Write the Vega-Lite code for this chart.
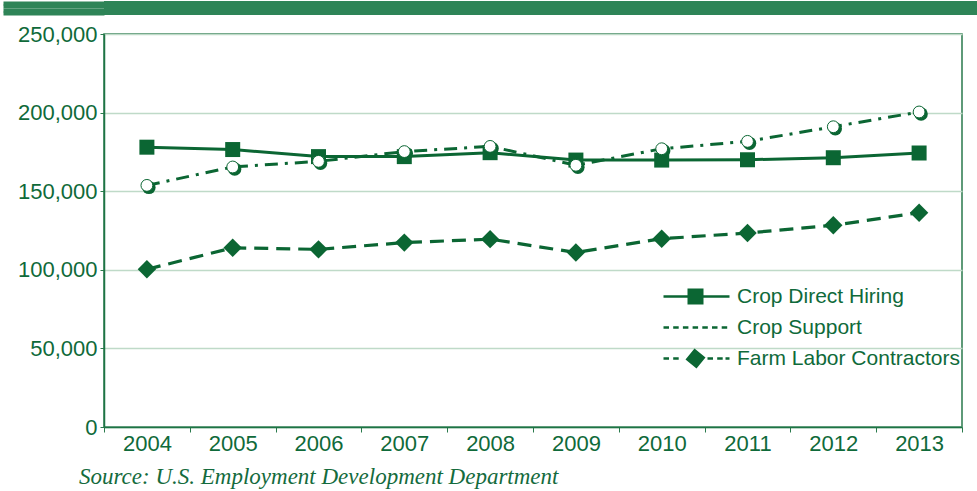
{
  "$schema": "https://vega.github.io/schema/vega-lite/v6.json",
  "padding": 0,
  "background": "white",
  "spacing": 6,
  "resolve": {"scale": {"shape": "independent"}, "legend": {"shape": "independent"}},
  "datasets": {
    "emp": [
      {"year": "2004", "series": "Crop Direct Hiring", "value": 178000},
      {"year": "2005", "series": "Crop Direct Hiring", "value": 176500},
      {"year": "2006", "series": "Crop Direct Hiring", "value": 172000},
      {"year": "2007", "series": "Crop Direct Hiring", "value": 172000},
      {"year": "2008", "series": "Crop Direct Hiring", "value": 174500},
      {"year": "2009", "series": "Crop Direct Hiring", "value": 169800},
      {"year": "2010", "series": "Crop Direct Hiring", "value": 169800},
      {"year": "2011", "series": "Crop Direct Hiring", "value": 170000},
      {"year": "2012", "series": "Crop Direct Hiring", "value": 171300},
      {"year": "2013", "series": "Crop Direct Hiring", "value": 174300},
      {"year": "2004", "series": "Crop Support", "value": 153700},
      {"year": "2005", "series": "Crop Support", "value": 165400},
      {"year": "2006", "series": "Crop Support", "value": 169000},
      {"year": "2007", "series": "Crop Support", "value": 175200},
      {"year": "2008", "series": "Crop Support", "value": 178500},
      {"year": "2009", "series": "Crop Support", "value": 166500},
      {"year": "2010", "series": "Crop Support", "value": 177000},
      {"year": "2011", "series": "Crop Support", "value": 181700},
      {"year": "2012", "series": "Crop Support", "value": 191000},
      {"year": "2013", "series": "Crop Support", "value": 200400},
      {"year": "2004", "series": "Farm Labor Contractors", "value": 100300},
      {"year": "2005", "series": "Farm Labor Contractors", "value": 114000},
      {"year": "2006", "series": "Farm Labor Contractors", "value": 113000},
      {"year": "2007", "series": "Farm Labor Contractors", "value": 117300},
      {"year": "2008", "series": "Farm Labor Contractors", "value": 119500},
      {"year": "2009", "series": "Farm Labor Contractors", "value": 111000},
      {"year": "2010", "series": "Farm Labor Contractors", "value": 119800},
      {"year": "2011", "series": "Farm Labor Contractors", "value": 123400},
      {"year": "2012", "series": "Farm Labor Contractors", "value": 128300},
      {"year": "2013", "series": "Farm Labor Contractors", "value": 136300}
    ],
    "band": [{"t": "", "v": 0.5}]
  },
  "vconcat": [
    {
      "width": 874,
      "height": 14,
      "view": {"fill": "#2e8457", "stroke": null},
      "data": {"name": "band"},
      "mark": {"type": "text", "color": "white"},
      "encoding": {
        "text": {"field": "t"},
        "y": {
          "field": "v",
          "type": "quantitative",
          "scale": {"domain": [0, 1]},
          "axis": {
            "title": null,
            "values": [0.125, 0.375, 0.625, 0.875],
            "labels": false,
            "domain": false,
            "grid": false,
            "tickSize": 101,
            "tickWidth": 4.2,
            "tickCap": "butt",
            "tickColor": "#2e8457",
            "minExtent": 103,
            "maxExtent": 103
          }
        }
      }
    },
    {
      "width": 858,
      "height": 393,
      "view": {"stroke": "#2a7a4c", "strokeWidth": 1.5},
      "data": {"name": "emp"},
      "title": {
        "text": "Source: U.S. Employment Development Department",
        "orient": "bottom",
        "anchor": "start",
        "frame": "group",
        "dx": -25,
        "offset": 12,
        "font": "Liberation Serif",
        "fontStyle": "italic",
        "fontWeight": "normal",
        "fontSize": 23,
        "color": "#146b3d"
      },
      "encoding": {
        "x": {
          "field": "year",
          "type": "ordinal",
          "bandPosition": 0.5,
          "scale": {"type": "band", "paddingInner": 0, "paddingOuter": 0},
          "axis": {
            "title": null,
            "labelAngle": 0,
            "tickBand": "extent",
            "tickSize": 5,
            "tickColor": "#2a7a4c",
            "domainColor": "#1d7445",
            "domainWidth": 1.5,
            "labelFont": "Liberation Sans",
            "labelFontSize": 22,
            "labelColor": "#0f6a3a",
            "labelPadding": 1,
            "labelDx": -3,
            "grid": false
          }
        },
        "y": {
          "field": "value",
          "type": "quantitative",
          "scale": {"domain": [0, 250000], "nice": false},
          "axis": {
            "title": null,
            "values": [0, 50000, 100000, 150000, 200000, 250000],
            "format": ",d",
            "grid": true,
            "gridColor": "#bfdac8",
            "gridWidth": 1.5,
            "tickSize": 4,
            "tickColor": "#2a7a4c",
            "domainColor": "#1d7445",
            "domainWidth": 1.5,
            "labelFont": "Liberation Sans",
            "labelFontSize": 22,
            "labelColor": "#0f6a3a",
            "labelPadding": 3,
            "minExtent": 103
          }
        }
      },
      "layer": [
        {
          "transform": [{"filter": "datum.series === 'Crop Direct Hiring'"}],
          "mark": {"type": "line", "color": "#0b6633", "strokeWidth": 3}
        },
        {
          "transform": [{"filter": "datum.series === 'Crop Support'"}],
          "mark": {"type": "line", "color": "#0b6633", "strokeWidth": 3, "strokeDash": [13, 7, 3, 7]}
        },
        {
          "transform": [{"filter": "datum.series === 'Farm Labor Contractors'"}],
          "mark": {"type": "line", "color": "#0b6633", "strokeWidth": 3.2, "strokeDash": [14, 8]}
        },
        {
          "transform": [{"filter": "datum.series === 'Crop Direct Hiring'"}],
          "mark": {"type": "point", "shape": "square", "filled": true, "size": 225, "color": "#0b6633", "opacity": 1}
        },
        {
          "transform": [{"filter": "datum.series === 'Farm Labor Contractors'"}],
          "mark": {"type": "point", "shape": "diamond", "filled": true, "size": 340, "color": "#0b6633", "opacity": 1}
        },
        {
          "transform": [{"filter": "datum.series === 'Crop Support'"}],
          "mark": {"type": "point", "shape": "circle", "filled": true, "size": 180, "color": "#0b6633", "opacity": 1, "xOffset": 2, "yOffset": 2}
        },
        {
          "transform": [{"filter": "datum.series === 'Crop Support'"}],
          "mark": {"type": "point", "shape": "circle", "filled": true, "size": 140, "fill": "white", "stroke": "#0b6633", "strokeWidth": 1, "opacity": 1}
        },
        {
          "mark": {"type": "point", "filled": true, "size": 400, "fill": "#0b6633", "opacity": 0},
          "encoding": {
            "shape": {
              "field": "series",
              "type": "nominal",
              "scale": {
                "domain": ["Crop Direct Hiring", "Crop Support", "Farm Labor Contractors"],
                "range": [
                  "M-3.2,-0.13H3.4V0.13H-3.2ZM-0.8,-0.8H0.8V0.8H-0.8Z",
                  "M-3.2,-0.12H-2.65V0.12H-3.2ZM-2.23,-0.12H-1.68V0.12H-2.23ZM-1.26,-0.12H-0.71V0.12H-1.26ZM-0.29,-0.12H0.26V0.12H-0.29ZM0.68,-0.12H1.23V0.12H0.68ZM1.65,-0.12H2.2V0.12H1.65ZM2.62,-0.12H3.17V0.12H2.62Z",
                  "M-3.2,-0.12H-2.65V0.12H-3.2ZM-2.23,-0.12H-1.68V0.12H-2.23ZM-0.1,-1L1,-0.1L0.1,1L-1,0.1ZM1.2,-0.12H1.75V0.12H1.2ZM2.17,-0.12H2.72V0.12H2.17ZM3.0,-0.12H3.4V0.12H3.0Z"
                ]
              },
              "legend": {
                "title": null,
                "orient": "none",
                "legendX": 581,
                "legendY": 252,
                "padding": 0,
                "symbolSize": 400,
                "labelFont": "Liberation Sans",
                "labelFontSize": 21,
                "labelColor": "#0f6a3a",
                "labelOffset": 31,
                "labelLimit": 0,
                "rowPadding": 9,
                "symbolOpacity": 1,
                "symbolFillColor": "#0b6633",
                "symbolStrokeWidth": 0,
                "encode": {
                  "symbols": {
                    "update": {
                      "fill": {"value": "#0b6633"},
                      "opacity": {"value": 1},
                      "fillOpacity": {"value": 1},
                      "strokeWidth": {"value": 0}
                    }
                  }
                }
              }
            }
          }
        }
      ]
    }
  ]
}
